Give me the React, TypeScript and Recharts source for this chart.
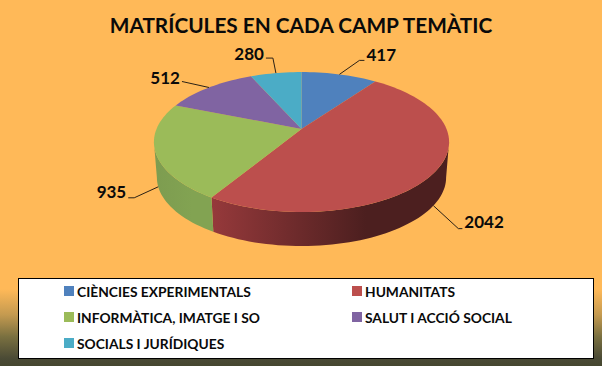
import { Legend, Pie, PieChart } from 'recharts';

const categories = [
  'CIÈNCIES EXPERIMENTALS',
  'HUMANITATS',
  'INFORMÀTICA, IMATGE I SO',
  'SALUT I ACCIÓ SOCIAL',
  'SOCIALS I JURÍDIQUES',
];
const values = [417, 2042, 935, 512, 280];
const topColors = ['#4F81BD', '#BC4F4D', '#9BBB59', '#8064A2', '#4BACC6'];
const wallFrom = ['#3f6797', '#96393b', '#7d9c50', '#665082', '#3c8a9e'];
const wallTo = ['#3f6797', '#4c1f1f', '#82a352', '#665082', '#3c8a9e'];

// elbow and tail of each leader line, relative to where it leaves the pie
const leaderElbow = [[20, -14], [25, 23], [-24, 11], [-27, -6], [-3, -15]];
const leaderTail = [5, 4, -6, 0, -7];
const labelDy = [-6, -7, -6, -4, -5];

const FONT = 'Lato, sans-serif';
const DEG = Math.PI / 180;

// pie is tilted with a bit of perspective, like the Excel 3D pie
const SQUASH = 0.466;
const PERSP = 0.186;
const DEPTH = 35.7;
const BOTTOM_SCALE = 0.98;
// front wall only shows between these angles (clockwise from 12 o'clock)
const WALL_FROM = 100.7;
const WALL_TO = 259.3;

const chartData = categories.map((name, i) => ({
  name,
  value: values[i],
  fill: topColors[i],
}));

function project(cx: number, cy: number, r: number, theta: number) {
  const u = Math.sin(theta * DEG);
  const v = -Math.cos(theta * DEG);
  const w = 1 - PERSP * v;
  return [cx + (r * u) / w, cy + (r * SQUASH * v) / w];
}

function lower(cx: number, cy: number, p: number[]) {
  return [cx + (p[0] - cx) * BOTTOM_SCALE, cy + DEPTH + (p[1] - cy) * BOTTOM_SCALE];
}

function arcPoints(cx: number, cy: number, r: number, a: number, b: number) {
  const steps = Math.max(2, Math.ceil(Math.abs(b - a) / 2));
  const pts = [];
  for (let i = 0; i <= steps; i++) {
    pts.push(project(cx, cy, r, a + ((b - a) * i) / steps));
  }
  return pts;
}

const toPath = (pts: number[][]) =>
  'M' + pts.map((p) => p[0].toFixed(2) + ',' + p[1].toFixed(2)).join('L') + 'Z';

function PieSlice(props: any) {
  const { cx, cy, outerRadius, startAngle, endAngle, fill, index } = props;
  const a = 90 - startAngle;
  const b = 90 - endAngle;
  const top = toPath([[cx, cy], ...arcPoints(cx, cy, outerRadius, a, b)]);
  const wa = Math.max(a, WALL_FROM);
  const wb = Math.min(b, WALL_TO);
  let wall = null;
  if (wb > wa) {
    const upper = arcPoints(cx, cy, outerRadius, wa, wb);
    const under = upper.map((p) => lower(cx, cy, p)).reverse();
    wall = toPath([...upper, ...under]);
  }
  const gradId = 'wall' + index;
  return (
    <g>
      {wall && (
        <>
          <defs>
            <linearGradient id={gradId} x1="0" y1="0" x2="1" y2="0">
              <stop offset="0" stopColor={wallFrom[index]} />
              <stop offset="0.65" stopColor={wallTo[index]} />
              <stop offset="1" stopColor={wallTo[index]} />
            </linearGradient>
          </defs>
          <path d={wall} fill={'url(#' + gradId + ')'} />
        </>
      )}
      <path d={top} fill={fill} />
    </g>
  );
}

function SliceLabel(props: any) {
  const { cx, cy, midAngle, outerRadius, value, index } = props;
  const theta = 90 - midAngle;
  const t = ((theta % 360) + 360) % 360;
  let start = project(cx, cy, outerRadius, t);
  if (t > WALL_FROM && t < WALL_TO) start = lower(cx, cy, start);
  const elbow = [start[0] + leaderElbow[index][0], start[1] + leaderElbow[index][1]];
  const tail = elbow[0] + leaderTail[index];
  const toRight = leaderElbow[index][0] > 0;
  return (
    <g>
      <path
        d={`M${start[0]},${start[1]}L${elbow[0]},${elbow[1]}L${tail},${elbow[1]}`}
        fill="none"
        stroke="#2b2115"
        strokeWidth={1}
      />
      <text
        x={tail + (toRight ? 2 : -2)}
        y={elbow[1] + labelDy[index]}
        textAnchor={toRight ? 'start' : 'end'}
        dominantBaseline="central"
        fontFamily={FONT}
        fontWeight={700}
        fontSize={17}
        fill="#0a0a0a"
      >
        {value}
      </text>
    </g>
  );
}

function LegendBox({ payload }: any) {
  return (
    <div
      style={{
        boxSizing: 'border-box',
        width: 576,
        height: 81,
        background: '#fff',
        border: '1px solid #000',
        display: 'grid',
        gridTemplateColumns: '288px 240px',
        gridAutoRows: '26px',
        paddingLeft: 45,
        paddingBottom: 3,
        alignContent: 'center',
        fontFamily: FONT,
        fontWeight: 700,
        fontSize: 13.8,
        color: '#0a0a0a',
      }}
    >
      {(payload || []).map((entry: any) => (
        <div key={entry.value} style={{ display: 'flex', alignItems: 'center' }}>
          <span
            style={{ width: 10, height: 10, marginRight: 3, background: entry.color, flex: 'none' }}
          />
          <span style={{ whiteSpace: 'nowrap' }}>{entry.value}</span>
        </div>
      ))}
    </div>
  );
}

export default function App() {
  return (
    <div
      style={{
        position: 'fixed',
        left: 0,
        top: 0,
        width: 602,
        height: 366,
        overflow: 'hidden',
        background:
          'linear-gradient(180deg, #FFB958 0%, #FFB958 79%, #c49a50 86%, #7a7040 92%, #4a4a35 98%, #45472f 100%)',
      }}
    >
      <div
        style={{
          position: 'absolute',
          left: 0,
          width: 602,
          top: 10,
          textAlign: 'center',
          fontFamily: FONT,
          fontWeight: 700,
          fontSize: 20.8,
          lineHeight: '30px',
          color: '#0a0a0a',
        }}
      >
        MATRÍCULES EN CADA CAMP TEMÀTIC
      </div>
      <PieChart
        width={602}
        height={366}
        margin={{ top: 0, right: 0, bottom: 0, left: 0 }}
        style={{ position: 'absolute', left: 0, top: 0 }}
      >
        <Pie
          data={chartData}
          dataKey="value"
          nameKey="name"
          cx={301.5}
          cy={129}
          outerRadius={145}
          startAngle={90}
          endAngle={-270}
          stroke="none"
          shape={PieSlice}
          label={SliceLabel}
          labelLine={false}
          isAnimationActive={false}
        />
        <Legend
          content={LegendBox}
          wrapperStyle={{ left: 18, top: 278, width: 576, bottom: 'auto' }}
        />
      </PieChart>
    </div>
  );
}
